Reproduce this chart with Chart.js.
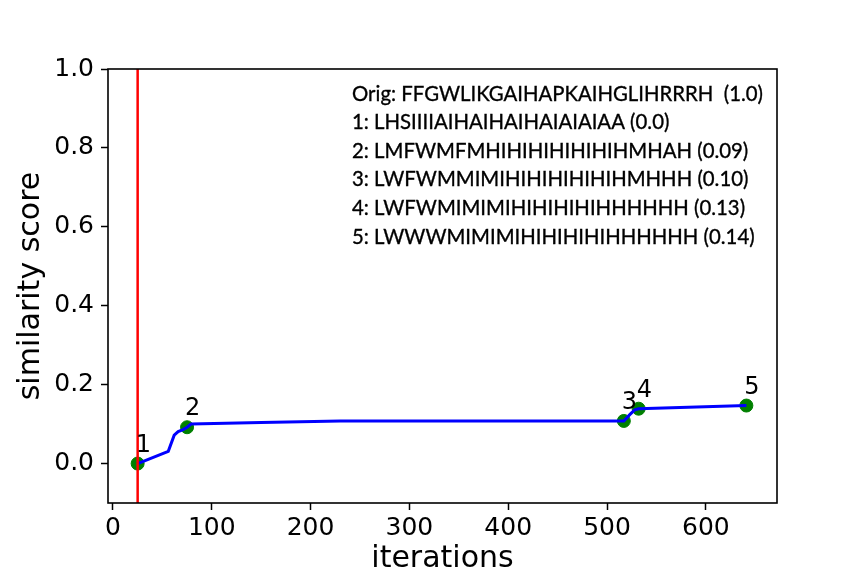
<!DOCTYPE html>
<html>
<head>
<meta charset="utf-8">
<script src="https://cdn.jsdelivr.net/npm/chart.js@4/dist/chart.umd.min.js"></script>
<style>
  html, body { margin: 0; padding: 0; background: #fff; }
  #wrap { width: 864px; height: 576px; }
</style>
</head>
<body>
<div id="wrap"><canvas id="c" width="864" height="576"></canvas></div>
<script>
// blue trace (iterations vs similarity)
const lineX = [25, 56, 62, 66, 71, 75, 79, 150, 230, 517, 523, 528, 532, 641];
const lineY = [0.0, 0.031, 0.072, 0.081, 0.086, 0.092, 0.100, 0.104, 0.108, 0.108, 0.124, 0.136, 0.139, 0.147];

// numbered checkpoints
const pointX = [25, 75, 517, 532, 641];
const pointY = [0.0, 0.092, 0.108, 0.139, 0.147];
const pointLabels = ["1", "2", "3", "4", "5"];

const redLineX = 25;

const xTicks = [0, 100, 200, 300, 400, 500, 600];
const yTicks = [0.0, 0.2, 0.4, 0.6, 0.8, 1.0];

const boxLines = [
  "Orig: FFGWLIKGAIHAPKAIHGLIHRRRH  (1.0)",
  "1: LHSIIIIAIHAIHAIHAIAIAIAA (0.0)",
  "2: LMFWMFMHIHIHIHIHIHIHMHAH (0.09)",
  "3: LWFWMMIMIHIHIHIHIHIHMHHH (0.10)",
  "4: LWFWMIMIMIHIHIHIHIHHHHHH (0.13)",
  "5: LWWWMIMIMIHIHIHIHIHHHHHH (0.14)"
];

const FONT = "'DejaVu Sans', sans-serif";

const extras = {
  id: "extras",
  afterDatasetsDraw(chart) {
    const { ctx, chartArea: a, scales: { x, y } } = chart;
    ctx.save();
    // point numbers, placed a bit above each point
    ctx.fillStyle = "#000";
    ctx.font = "24px " + FONT;
    ctx.textAlign = "left";
    ctx.textBaseline = "alphabetic";
    pointX.forEach((px, i) => {
      ctx.fillText(pointLabels[i], x.getPixelForValue(px) - 2, y.getPixelForValue(pointY[i] + 0.03));
    });

    // text box with the sequences
    ctx.font = "21px Lato, sans-serif";
    ctx.strokeStyle = "#000";
    ctx.lineWidth = 0.35;
    const w = ctx.measureText(boxLines[0]).width;
    const sx = 411 / w;
    ctx.translate(352, 0);
    ctx.scale(sx, 1);
    boxLines.forEach((t, i) => {
      ctx.fillText(t, 0, 100.5 + i * 28.6);
      ctx.strokeText(t, 0, 100.5 + i * 28.6);
    });
    ctx.restore();

    // four spines
    ctx.save();
    ctx.strokeStyle = "#000";
    ctx.lineWidth = 1.6;
    ctx.strokeRect(a.left, a.top, a.right - a.left, a.bottom - a.top);
    ctx.restore();
  }
};

new Chart(document.getElementById("c"), {
  type: "scatter",
  data: {
    datasets: [
      {
        data: pointX.map((v, i) => ({ x: v, y: pointY[i] })),
        backgroundColor: "#008000",
        borderColor: "#008000",
        pointRadius: 6.5,
        order: 3
      },
      {
        type: "line",
        data: lineX.map((v, i) => ({ x: v, y: lineY[i] })),
        borderColor: "#0000ff",
        borderWidth: 3,
        pointRadius: 0,
        tension: 0,
        fill: false,
        order: 2
      },
      {
        type: "line",
        data: [{ x: redLineX, y: -0.2 }, { x: redLineX, y: 1.2 }],
        borderColor: "#ff0000",
        borderWidth: 2.5,
        pointRadius: 0,
        fill: false,
        order: 1
      }
    ]
  },
  options: {
    responsive: false,
    animation: false,
    events: [],
    layout: { padding: { top: 69, right: 87, left: 0, bottom: 0 } },
    plugins: { legend: { display: false }, tooltip: { enabled: false } },
    scales: {
      x: {
        type: "linear",
        min: -5,
        max: 672,
        afterFit: (s) => { s.height = 73; },
        afterBuildTicks: (s) => { s.ticks = xTicks.map((v) => ({ value: v })); },
        grid: { drawOnChartArea: false, drawTicks: true, tickLength: 7, tickColor: "#000", tickWidth: 1.5 },
        border: { display: false },
        ticks: { color: "#000", font: { family: FONT, size: 25 }, padding: 3, maxRotation: 0 },
        title: { display: true, text: "iterations", color: "#000", font: { family: FONT, size: 30, lineHeight: 1 }, padding: { top: 0, bottom: 2 } }
      },
      y: {
        type: "linear",
        min: -0.1,
        max: 1.0,
        afterFit: (s) => { s.width = 108; },
        afterBuildTicks: (s) => { s.ticks = yTicks.map((v) => ({ value: v })); },
        grid: { drawOnChartArea: false, drawTicks: true, tickLength: 7, tickColor: "#000", tickWidth: 1.5 },
        border: { display: false },
        ticks: { color: "#000", font: { family: FONT, size: 25 }, padding: 7, callback: (v) => v.toFixed(1) },
        title: { display: true, text: "similarity score", color: "#000", font: { family: FONT, size: 30, lineHeight: 1 }, padding: { top: 16, bottom: 0 } }
      }
    }
  },
  plugins: [extras]
});
</script>
</body>
</html>
